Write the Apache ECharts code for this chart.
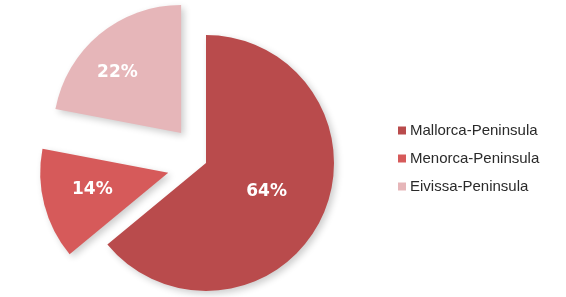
<!DOCTYPE html>
<html>
<head>
<meta charset="utf-8">
<script src="https://cdn.jsdelivr.net/npm/echarts@6/dist/echarts.min.js"></script>
<style>
  html, body { margin: 0; padding: 0; background: #fff; }
  #chartPie { width: 566px; height: 297px; }
</style>
</head>
<body>
<div id="chartPie"></div>
<script>
var routes = ['Mallorca-Peninsula', 'Menorca-Peninsula', 'Eivissa-Peninsula']
var shares = [64, 14, 22]
var exploded = [false, true, true]
var sliceColors = ['#b94b4c', '#d65a5a', '#e6b6b9']
// nudges for the labels of the pulled-out slices
var labelShift = [[0, 0], [-11, 0], [-21, -9]]

var chartPie = echarts.init(document.getElementById('chartPie'))

var pieData = []
for (var i = 0; i < routes.length; i++) {
  pieData.push({
    name: routes[i],
    value: shares[i],
    selected: exploded[i],
    itemStyle: { color: sliceColors[i] }
  })
}

chartPie.setOption({
  animation: false,
  legend: {
    orient: 'vertical',
    left: 393,
    top: 118,
    icon: 'rect',
    itemWidth: 8,
    itemHeight: 8,
    itemGap: 13,
    selectedMode: false,
    data: routes,
    textStyle: {
      fontFamily: 'Liberation Sans, Arial, sans-serif',
      fontSize: 15,
      color: '#2a2a2a',
      padding: [0, 0, 0, -1]
    }
  },
  series: [
    {
      type: 'pie',
      center: [206, 163],
      radius: 128,
      startAngle: 90,
      clockwise: true,
      selectedMode: 'multiple',
      selectedOffset: 39,
      emphasis: { disabled: true },
      itemStyle: {
        shadowBlur: 7,
        shadowColor: 'rgba(0,0,0,0.2)',
        shadowOffsetX: 3,
        shadowOffsetY: 3
      },
      label: {
        show: true,
        position: 'inside',
        formatter: '{c}%',
        color: '#fff',
        fontFamily: 'DejaVu Sans, Verdana, sans-serif',
        fontWeight: 'bold',
        fontSize: 17
      },
      labelLayout: function (params) {
        var s = labelShift[params.dataIndex]
        return { dx: s[0], dy: s[1] }
      },
      data: pieData
    }
  ]
})
</script>
</body>
</html>
